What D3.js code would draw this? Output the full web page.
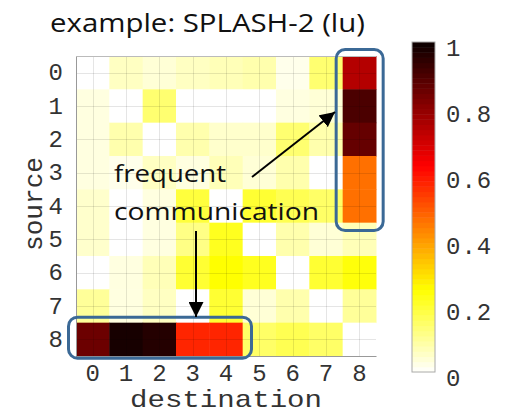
<!DOCTYPE html>
<html>
<head>
<meta charset="utf-8">
<script src="https://cdn.jsdelivr.net/npm/d3@7/dist/d3.min.js"></script>
<style>
  body { margin: 0; background: #fff; }
</style>
</head>
<body>
<div id="chart"></div>
<script>
!(function () {
  // - - - - - - - - - -

  // data
  const sources = ['0', '1', '2', '3', '4', '5', '6', '7', '8'];
  const destinations = ['0', '1', '2', '3', '4', '5', '6', '7', '8'];
  const row0 = [0.00, 0.06, 0.04, 0.06, 0.07, 0.08, 0.02, 0.14, 0.74];
  const row1 = [0.03, 0.00, 0.14, 0.00, 0.00, 0.00, 0.03, 0.04, 0.90];
  const row2 = [0.03, 0.08, 0.00, 0.08, 0.05, 0.05, 0.14, 0.08, 0.86];
  const row3 = [0.03, 0.02, 0.06, 0.03, 0.07, 0.04, 0.08, 0.00, 0.46];
  const row4 = [0.05, 0.00, 0.03, 0.19, 0.00, 0.20, 0.17, 0.15, 0.46];
  const row5 = [0.05, 0.00, 0.03, 0.12, 0.22, 0.00, 0.08, 0.04, 0.07];
  const row6 = [0.00, 0.03, 0.07, 0.20, 0.25, 0.22, 0.00, 0.20, 0.24];
  const row7 = [0.10, 0.03, 0.06, 0.00, 0.20, 0.04, 0.08, 0.00, 0.10];
  const row8 = [0.85, 0.98, 0.96, 0.57, 0.57, 0.15, 0.17, 0.15, 0.00];
  const matrix = [row0, row1, row2, row3, row4, row5, row6, row7, row8];
  const cbarTicks = [0, 0.2, 0.4, 0.6, 0.8, 1];

  let
    width = 508,
    height = 416,
    mono = '"Liberation Mono", "Courier New", monospace',
    sans = '"Open Sans", "Noto Sans", sans-serif',
    boxBlue = '#3b6996',
    inkMono = '#333';

  const svg = d3.select('#chart')
    .append('svg')
    .attr('width', width)
    .attr('height', height)
    .attr('viewBox', '0 0 ' + width + ' ' + height);

  const defs = svg.append('defs');
  defs.append('marker')
    .attr('id', 'head')
    .attr('viewBox', '0 0 10 10')
    .attr('refX', 10)
    .attr('refY', 5)
    .attr('markerWidth', 7.5)
    .attr('markerHeight', 7.5)
    .attr('markerUnits', 'strokeWidth')
    .attr('orient', 'auto')
    .append('path')
    .attr('d', 'M0,0 L10,5 L0,10 Z')
    .attr('fill', '#000');

  const x = d3.scaleBand().domain(destinations).range([76, 376]);
  const y = d3.scaleBand().domain(sources).range([56, 356]);

  // reversed "hot" colormap
  const color = d3.scaleLinear()
    .domain([0, 0.25, 0.625, 1])
    .range(['#ffffff', '#ffff00', '#ff0000', '#0a0000'])
    .clamp(true);

  const cells = [];
  matrix.forEach(function (row, i) {
    row.forEach(function (v, j) {
      cells.push({ src: sources[i], dst: destinations[j], v: v });
    });
  });

  svg.append('g')
    .selectAll('rect')
    .data(cells)
    .enter()
    .append('rect')
    .attr('x', function (d) { return x(d.dst); })
    .attr('y', function (d) { return y(d.src); })
    .attr('width', x.bandwidth() + 0.5)
    .attr('height', y.bandwidth() + 0.5)
    .style('fill', function (d) { return color(d.v); });

  // grid lines at cell centres
  const grid = svg.append('g')
    .attr('stroke', '#000')
    .attr('stroke-opacity', 0.1)
    .attr('stroke-width', 1);
  grid.selectAll('.gx')
    .data(destinations)
    .enter()
    .append('line')
    .attr('x1', function (d) { return Math.round(x(d) + x.bandwidth() / 2) + 0.5; })
    .attr('x2', function (d) { return Math.round(x(d) + x.bandwidth() / 2) + 0.5; })
    .attr('y1', 56)
    .attr('y2', 356);
  grid.selectAll('.gy')
    .data(sources)
    .enter()
    .append('line')
    .attr('y1', function (d) { return Math.round(y(d) + y.bandwidth() / 2) + 0.5; })
    .attr('y2', function (d) { return Math.round(y(d) + y.bandwidth() / 2) + 0.5; })
    .attr('x1', 76)
    .attr('x2', 376);

  // axes
  const xAxis = svg.append('g')
    .attr('transform', 'translate(0,356)')
    .call(d3.axisBottom(x).tickSize(0).tickPadding(8));
  const yAxis = svg.append('g')
    .attr('transform', 'translate(76,0)')
    .call(d3.axisLeft(y).tickSize(0).tickPadding(13));
  [xAxis, yAxis].forEach(function (a) {
    a.select('.domain').attr('stroke', '#999');
    a.selectAll('text')
      .style('font-family', mono)
      .style('font-size', '24px')
      .attr('fill', inkMono);
  });
  xAxis.selectAll('text').attr('dy', '0.71em');

  svg.append('line')
    .attr('x1', 76).attr('x2', 376)
    .attr('y1', 56.5).attr('y2', 56.5)
    .attr('stroke', '#bbb');

  svg.append('text')
    .attr('x', 226)
    .attr('y', 407)
    .attr('text-anchor', 'middle')
    .attr('textLength', 192)
    .attr('lengthAdjust', 'spacingAndGlyphs')
    .style('font-family', mono)
    .style('font-size', '24px')
    .attr('fill', inkMono)
    .text('destination');

  svg.append('text')
    .attr('transform', 'translate(42,204) rotate(-90)')
    .attr('text-anchor', 'middle')
    .attr('textLength', 94)
    .attr('lengthAdjust', 'spacingAndGlyphs')
    .style('font-family', mono)
    .style('font-size', '25px')
    .attr('fill', inkMono)
    .text('source');

  // title
  svg.append('text')
    .attr('x', 50)
    .attr('y', 32)
    .attr('textLength', 315)
    .attr('lengthAdjust', 'spacingAndGlyphs')
    .style('font-family', sans)
    .style('font-size', '25px')
    .attr('fill', '#111')
    .text('example: SPLASH-2 (lu)');

  // colorbar
  const cy = d3.scaleLinear().domain([0, 1]).range([372, 42]);
  const steps = d3.range(64).map(function (i) { return i / 64; });
  svg.append('g')
    .selectAll('rect')
    .data(steps)
    .enter()
    .append('rect')
    .attr('x', 412)
    .attr('width', 23)
    .attr('y', function (d) { return cy(d + 1 / 64); })
    .attr('height', function (d) { return cy(d) - cy(d + 1 / 64) + 0.5; })
    .style('fill', function (d) { return color(d + 0.5 / 64); });
  svg.append('rect')
    .attr('x', 412).attr('y', 42)
    .attr('width', 23).attr('height', 330)
    .attr('fill', 'none')
    .attr('stroke', '#aaa');

  svg.append('g')
    .selectAll('text')
    .data(cbarTicks)
    .enter()
    .append('text')
    .attr('x', 446)
    .attr('y', function (d) { return cy(d) + 6; })
    .attr('dy', '0.35em')
    .style('font-family', mono)
    .style('font-size', '24px')
    .style('letter-spacing', '1px')
    .attr('fill', inkMono)
    .text(function (d) { return d === 0 || d === 1 ? String(d) : d.toFixed(1); });

  // highlight boxes
  svg.append('rect')
    .attr('x', x('0') - 7.5).attr('y', y('8') - 5.5)
    .attr('width', 183).attr('height', 41)
    .attr('rx', 9)
    .attr('fill', 'none')
    .attr('stroke', boxBlue)
    .attr('stroke-width', 3);
  svg.append('rect')
    .attr('x', x('8') - 6.5).attr('y', y('0') - 6.5)
    .attr('width', 47).attr('height', 181)
    .attr('rx', 9)
    .attr('fill', 'none')
    .attr('stroke', boxBlue)
    .attr('stroke-width', 3);

  // annotation
  svg.append('text')
    .attr('x', 114).attr('y', 182)
    .attr('textLength', 112)
    .attr('lengthAdjust', 'spacingAndGlyphs')
    .style('font-family', sans)
    .style('font-size', '24px')
    .attr('fill', '#111')
    .text('frequent');
  svg.append('text')
    .attr('x', 114).attr('y', 220)
    .attr('textLength', 205)
    .attr('lengthAdjust', 'spacingAndGlyphs')
    .style('font-family', sans)
    .style('font-size', '24px')
    .attr('fill', '#111')
    .text('communication');

  svg.append('line')
    .attr('x1', 252).attr('y1', 177)
    .attr('x2', 335).attr('y2', 112)
    .attr('stroke', '#000')
    .attr('stroke-width', 2)
    .attr('marker-end', 'url(#head)');
  svg.append('line')
    .attr('x1', 196).attr('y1', 231)
    .attr('x2', 196).attr('y2', 317)
    .attr('stroke', '#000')
    .attr('stroke-width', 2)
    .attr('marker-end', 'url(#head)');

  // - - - - - - - - - -
}());
</script>
</body>
</html>
